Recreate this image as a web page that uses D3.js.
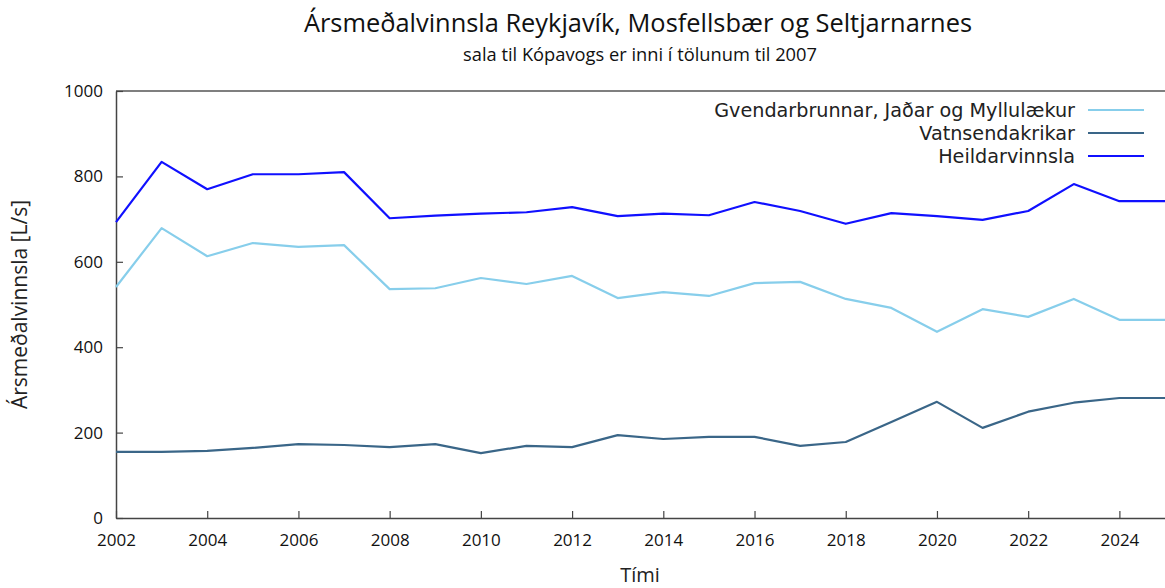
<!DOCTYPE html>
<html>
<head>
<meta charset="utf-8">
<title>Ársmeðalvinnsla</title>
<script src="https://cdn.jsdelivr.net/npm/d3@7"></script>
<style>
  body { margin: 0; background: #fff; }
  svg { display: block; }
</style>
</head>
<body>
<div id="chart"></div>
<script>
var years = d3.range(2002, 2026);
var gvendarbrunnar = [541,679,613,644,635,639,536,538,562,548,567,515,529,520,550,553,513,492,436,489,471,513,464,464];
var vatnsendakrikar = [155,155,157,164,173,171,166,173,152,169,166,194,185,190,190,169,178,225,272,211,249,270,281,281];
var heildarvinnsla = [693,834,770,805,805,810,702,708,713,716,728,707,713,709,740,719,689,714,707,698,719,782,742,742];
var seriesNames = ["Gvendarbrunnar, Jaðar og Myllulækur", "Vatnsendakrikar", "Heildarvinnsla"];
var seriesColors = ["#87ceeb", "#3a6688", "#1010ff"];
var yTicks = [0, 200, 400, 600, 800, 1000];
var xTicks = d3.range(2002, 2025, 2);

var width = 1165, height = 588;
var margin = {left: 116, right: 0, top: 91, bottom: 70};

var svg = d3.select("#chart").append("svg")
  .attr("width", width)
  .attr("height", height);

var x = d3.scaleLinear().domain([2002, 2025]).range([margin.left, width - margin.right]);
var y = d3.scaleLinear().domain([0, 1000]).range([height - margin.bottom, margin.top]);

// titles
svg.append("text")
  .attr("x", 638).attr("y", 32)
  .attr("text-anchor", "middle")
  .style("font-family", "'Open Sans', sans-serif")
  .style("font-size", "25.4px")
  .style("fill", "#111")
  .text("Ársmeðalvinnsla Reykjavík, Mosfellsbær og Seltjarnarnes");
svg.append("text")
  .attr("x", 640).attr("y", 61)
  .attr("text-anchor", "middle")
  .style("font-family", "'Open Sans', sans-serif")
  .style("font-size", "18.3px")
  .style("fill", "#111")
  .text("sala til Kópavogs er inni í tölunum til 2007");

// frame: top line
svg.append("line")
  .attr("x1", x(2002)).attr("x2", width)
  .attr("y1", y(1000)).attr("y2", y(1000))
  .style("stroke", "#555").style("stroke-width", 1.5);

// axes
var xAxis = svg.append("g")
  .attr("transform", "translate(0," + y(0) + ")")
  .call(d3.axisBottom(x).tickValues(xTicks).tickFormat(d3.format("d")).tickSizeInner(-7).tickSizeOuter(0).tickPadding(16));
var yAxis = svg.append("g")
  .attr("transform", "translate(" + x(2002) + ",0)")
  .call(d3.axisLeft(y).tickValues(yTicks).tickFormat(d3.format("d")).tickSizeInner(-7).tickSizeOuter(0).tickPadding(13));

[xAxis, yAxis].forEach(function(a) {
  a.select(".domain").style("stroke", "#444").style("stroke-width", 1.5);
  a.selectAll(".tick line").style("stroke", "#444").style("stroke-width", 1.2);
  a.selectAll(".tick text")
    .style("font-family", "'Open Sans', sans-serif")
    .style("font-size", "17px")
    .style("fill", "#111");
});

// axis labels
svg.append("text")
  .attr("transform", "translate(27," + ((y(0) + y(1000)) / 2) + ") rotate(-90)")
  .attr("text-anchor", "middle")
  .style("font-family", "'Open Sans', sans-serif")
  .style("font-size", "21px")
  .style("fill", "#222")
  .text("Ársmeðalvinnsla [L/s]");
svg.append("text")
  .attr("x", 640).attr("y", 582)
  .attr("text-anchor", "middle")
  .style("font-family", "'Open Sans', sans-serif")
  .style("font-size", "20px")
  .style("fill", "#222")
  .text("Tími");

// lines
var line = d3.line()
  .x(function(d, i) { return x(years[i]); })
  .y(function(d) { return y(d); });

[gvendarbrunnar, vatnsendakrikar, heildarvinnsla].forEach(function(vals, k) {
  svg.append("path")
    .datum(vals)
    .attr("d", line)
    .style("fill", "none")
    .style("stroke", seriesColors[k])
    .style("stroke-width", 2.2)
    .style("stroke-linejoin", "round");
});

// legend
var legend = svg.append("g");
seriesNames.forEach(function(name, k) {
  var ly = 110 + k * 23;
  legend.append("text")
    .attr("x", 1075).attr("y", ly + 7)
    .attr("text-anchor", "end")
    .style("font-family", "'DejaVu Sans', sans-serif")
    .style("font-size", "19.2px")
    .style("fill", "#222")
    .text(name);
  legend.append("line")
    .attr("x1", 1088).attr("x2", 1144)
    .attr("y1", ly).attr("y2", ly)
    .style("stroke", seriesColors[k])
    .style("stroke-width", 2.2);
});
</script>
</body>
</html>
